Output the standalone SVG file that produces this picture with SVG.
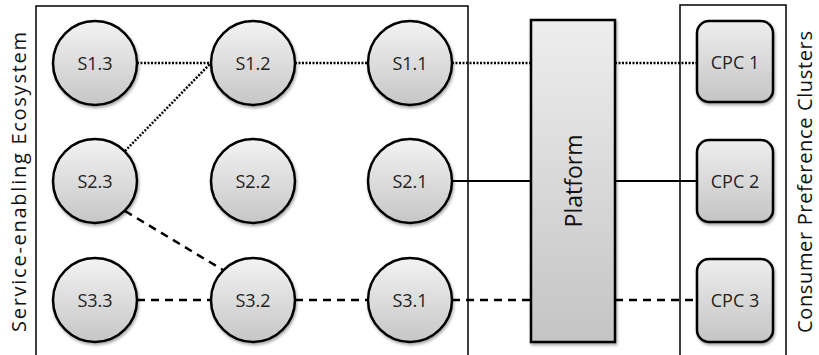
<svg xmlns="http://www.w3.org/2000/svg" width="819" height="355" viewBox="0 0 819 355">
<defs>
<linearGradient id="g" x1="0" y1="0" x2="0" y2="1">
<stop offset="0" stop-color="#f3f3f3"/>
<stop offset="1" stop-color="#c6c6c6"/>
</linearGradient>
<linearGradient id="gp" x1="0" y1="0" x2="0" y2="1">
<stop offset="0" stop-color="#eeeeee"/>
<stop offset="1" stop-color="#c4c4c4"/>
</linearGradient>
<filter id="sh" x="-20%" y="-20%" width="150%" height="150%">
<feDropShadow dx="1" dy="2" stdDeviation="1.5" flood-color="#000" flood-opacity="0.35"/>
</filter>
<style>
.box{fill:none;stroke:#000;stroke-width:1.5}
.n{fill:url(#g);stroke:#000;stroke-width:2.5;filter:url(#sh)}
.p{fill:url(#gp);stroke:#000;stroke-width:2.5;filter:url(#sh)}
.t{font-family:"Open Sans","Liberation Sans",sans-serif;font-size:18px;fill:#222;text-anchor:middle;dominant-baseline:central}
.vl{font-family:"Open Sans","Liberation Sans",sans-serif;font-size:20px;fill:#111;text-anchor:middle;dominant-baseline:central}
.dot{stroke:#000;stroke-width:2.5;stroke-dasharray:2 1.5;fill:none}
.dash{stroke:#000;stroke-width:2.5;stroke-dasharray:8 6;fill:none}
.sol{stroke:#000;stroke-width:2;fill:none}
</style>
</defs>
<rect class="box" x="36" y="6" width="432" height="370"/>
<rect class="box" x="680" y="5" width="106" height="370"/>
<text class="vl" transform="translate(18,182) rotate(-90)" textLength="300" lengthAdjust="spacing">Service-enabling Ecosystem</text>
<text class="vl" transform="translate(804,182) rotate(-90)" textLength="302" lengthAdjust="spacing">Consumer Preference Clusters</text>
<g id="connectors">
<line class="dot" x1="137" y1="63" x2="211" y2="63"/>
<line class="dot" x1="295" y1="63" x2="367" y2="63"/>
<line class="dot" x1="452" y1="63" x2="531" y2="63"/>
<line class="dot" x1="615" y1="63" x2="697" y2="63"/>
<line class="dot" x1="125" y1="151" x2="211" y2="63"/>
<line class="sol" x1="452" y1="181" x2="531" y2="181"/>
<line class="sol" x1="615" y1="181" x2="697" y2="181"/>
<line class="dash" x1="125" y1="211" x2="223" y2="270"/>
<line class="dash" x1="137" y1="300" x2="211" y2="300"/>
<line class="dash" x1="295" y1="300" x2="367" y2="300"/>
<line class="dash" x1="452" y1="300" x2="531" y2="300"/>
<line class="dash" x1="615" y1="300" x2="697" y2="300"/>
</g>
<g id="S1.3"><circle class="n" cx="95" cy="63" r="42"/><text class="t" x="95" y="63">S1.3</text></g>
<g id="S1.2"><circle class="n" cx="253" cy="63" r="42"/><text class="t" x="253" y="63">S1.2</text></g>
<g id="S1.1"><circle class="n" cx="410" cy="63" r="42"/><text class="t" x="410" y="63">S1.1</text></g>
<g id="S2.3"><circle class="n" cx="95" cy="181" r="42"/><text class="t" x="95" y="181">S2.3</text></g>
<g id="S2.2"><circle class="n" cx="253" cy="181" r="42"/><text class="t" x="253" y="181">S2.2</text></g>
<g id="S2.1"><circle class="n" cx="410" cy="181" r="42"/><text class="t" x="410" y="181">S2.1</text></g>
<g id="S3.3"><circle class="n" cx="95" cy="300" r="42"/><text class="t" x="95" y="300">S3.3</text></g>
<g id="S3.2"><circle class="n" cx="253" cy="300" r="42"/><text class="t" x="253" y="300">S3.2</text></g>
<g id="S3.1"><circle class="n" cx="410" cy="300" r="42"/><text class="t" x="410" y="300">S3.1</text></g>
<g id="Platform"><rect class="p" x="531" y="20" width="84" height="322"/><text class="vl" style="font-size:23px" transform="translate(573,181) rotate(-90)">Platform</text></g>
<g id="CPC1"><rect class="p" x="697" y="21" width="76" height="81" rx="12"/><text class="t" x="735" y="62">CPC 1</text></g>
<g id="CPC2"><rect class="p" x="697" y="140" width="76" height="82" rx="12"/><text class="t" x="735" y="181">CPC 2</text></g>
<g id="CPC3"><rect class="p" x="697" y="259" width="76" height="83" rx="12"/><text class="t" x="735" y="300">CPC 3</text></g>
</svg>
